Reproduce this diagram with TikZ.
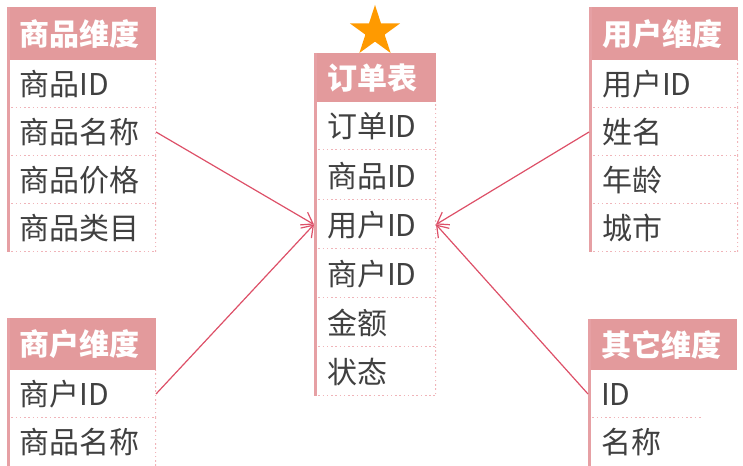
\documentclass[tikz,border=0pt]{standalone}
\usepackage{fontspec}
\setmainfont{Noto Sans CJK SC}
\usetikzlibrary{arrows.meta}
\definecolor{hdr}{HTML}{E39A9C}
\definecolor{edgec}{HTML}{E6A0A4}
\definecolor{sepc}{HTML}{F0B4B9}
\definecolor{connc}{HTML}{DD5068}
\definecolor{txt}{HTML}{404040}
\definecolor{starc}{HTML}{FF9A00}
\begin{document}
\begin{tikzpicture}[x=0.75pt,y=-0.75pt,
  every node/.style={inner sep=0pt,outer sep=0pt,text height=20pt,text depth=2.5pt},
  hdrbox/.style={anchor=north west,fill=hdr,text=white,inner xsep=9.75pt,align=left,
    font=\bfseries\fontsize{22.5pt}{27pt}\selectfont,minimum height=#1},
  rowbox/.style={anchor=north west,text=txt,inner xsep=9.75pt,align=left,minimum height=36pt,
    font=\fontsize{22.5pt}{27pt}\selectfont,
    path picture={\draw[sepl] (path picture bounding box.south west) -- (path picture bounding box.south east) -- (path picture bounding box.north east);}},
  rowend/.style={anchor=north west,text=txt,inner xsep=9.75pt,align=left,minimum height=36pt,
    font=\fontsize{22.5pt}{27pt}\selectfont,
    path picture={\draw[sepl] (path picture bounding box.south east) -- (path picture bounding box.north east);}},
  rowflat/.style={anchor=north west,text=txt,inner xsep=9.75pt,align=left,minimum height=36pt,
    font=\fontsize{22.5pt}{27pt}\selectfont,
    path picture={\draw[sepl] (path picture bounding box.south west) -- (path picture bounding box.south east);}},
  sepl/.style={draw=sepc,line width=1.2pt,dotted},
  edgel/.style={draw=edgec,line width=2.25pt},
  conn/.style={draw=connc,line width=0.9pt,-{Straight Barb[length=8pt,width=11pt,line width=0.9pt]}},
]
\useasboundingbox (0,0) rectangle (743,466);

% star
\begin{scope}[shift={(375,31.5)}]
\fill[starc] (90:19.9pt) -- (126:7.6pt) -- (162:19.9pt) -- (198:7.6pt) -- (234:19.9pt)
  -- (270:7.6pt) -- (306:19.9pt) -- (342:7.6pt) -- (18:19.9pt) -- (54:7.6pt) -- cycle;
\end{scope}

% product dimension (top left)
\node[hdrbox=39.75pt,text width=92.25pt] (ha) at (7,7) {商品维度};
\node[rowbox,text width=92.25pt] (a1) at (7,60) {商品ID};
\node[rowbox,text width=92.25pt] (a2) at (7,108) {商品名称};
\node[rowbox,text width=92.25pt] (a3) at (7,156) {商品价格};
\node[rowbox,text width=92.25pt] (a4) at (7,204) {商品类目};
\draw[edgel] ([xshift=1.1pt]ha.north west) -- ([xshift=1.1pt]a4.south west);

% order table (center)
\node[hdrbox=36.75pt,text width=72pt] (ho) at (314,53) {订单表};
\node[rowbox,text width=72pt] (o1) at (314,102) {订单ID};
\node[rowbox,text width=72pt,minimum height=36.75pt] (o2) at (314,151) {商品ID};
\node[rowbox,text width=72pt,minimum height=36.75pt] (o3) at (314,200) {用户ID};
\node[rowbox,text width=72pt,minimum height=36.75pt] (o4) at (314,249) {商户ID};
\node[rowbox,text width=72pt,minimum height=36.75pt] (o5) at (314,298) {金额};
\node[rowbox,text width=72pt,minimum height=36.75pt] (o6) at (314,347) {状态};
\draw[edgel] ([xshift=1.1pt]ho.north west) -- ([xshift=1.1pt]o6.south west);

% user dimension (top right)
\node[hdrbox=39.75pt,text width=92.25pt] (hu) at (589,7) {用户维度};
\node[rowbox,text width=92.25pt] (u1) at (589,60) {用户ID};
\node[rowbox,text width=92.25pt] (u2) at (589,108) {姓名};
\node[rowbox,text width=92.25pt] (u3) at (589,156) {年龄};
\node[rowbox,text width=92.25pt] (u4) at (589,204) {城市};
\draw[edgel] ([xshift=1.1pt]hu.north west) -- ([xshift=1.1pt]u4.south west);

% merchant dimension (bottom left)
\node[hdrbox=39pt,text width=92.25pt] (hm) at (7,318) {商户维度};
\node[rowbox,text width=92.25pt] (m1) at (7,370) {商户ID};
\node[rowend,text width=92.25pt] (m2) at (7,418) {商品名称};
\draw[edgel] ([xshift=1.1pt]hm.north west) -- ([xshift=1.1pt]m2.south west);

% other dimension (bottom right)
\node[hdrbox=38.25pt,text width=92.25pt] (hq) at (588,319) {其它维度};
\node[rowflat,text width=66.75pt] (q1) at (588,370) {ID};
\node[rowflat,text width=66.75pt,path picture={}] (q2) at (588,418) {名称};
\draw[edgel] ([xshift=1.1pt]hq.north west) -- ([xshift=1.1pt]q2.south west);

% connectors
\draw[conn] (a2.east) -- (o3.west);
\draw[conn] (m1.east) -- (o3.west);
\draw[conn] (u2.west) -- (o3.east);
\draw[conn] (q1.west) -- (o3.east);
\end{tikzpicture}
\end{document}
